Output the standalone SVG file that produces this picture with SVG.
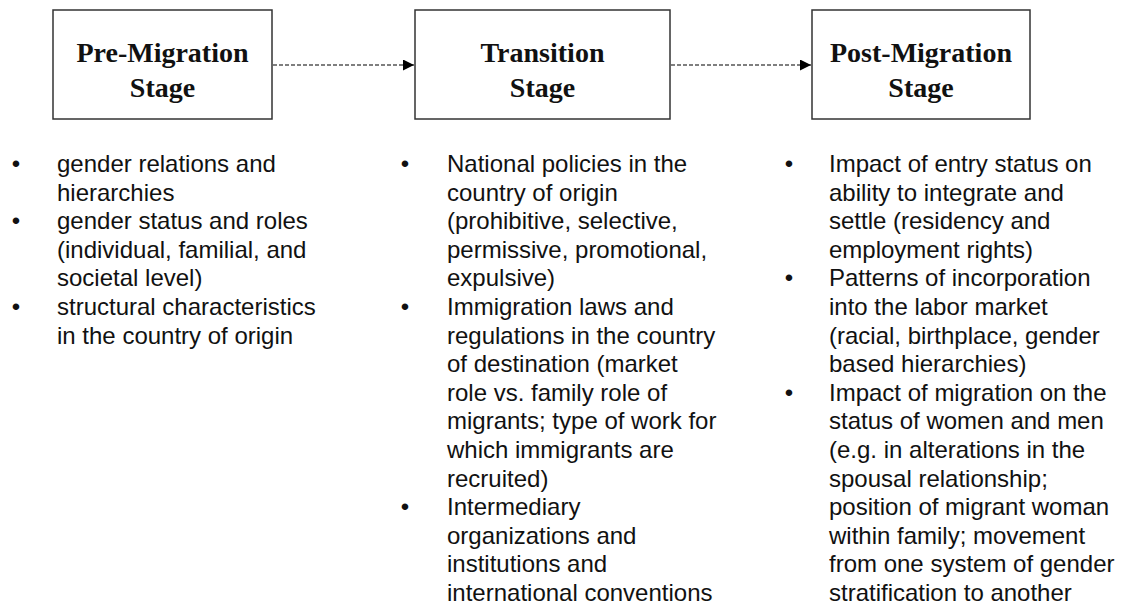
<svg xmlns="http://www.w3.org/2000/svg" width="1124" height="609" viewBox="0 0 1124 609">
  <defs>
    <marker id="arrowhead" viewBox="0 0 10 10" refX="10" refY="5" markerWidth="11" markerHeight="11" markerUnits="userSpaceOnUse" orient="auto">
      <path d="M0,0 L10,5 L0,10 Z" fill="#000"/>
    </marker>
    <style>
      .stage { fill: #fff; stroke: #333; stroke-width: 1.5; }
      .title { font-family: "Liberation Serif", "Times New Roman", serif; font-weight: bold; font-size: 28px; fill: #111; text-anchor: middle; }
      .item { font-family: "Liberation Sans", Arial, sans-serif; font-size: 24px; fill: #111; }
      .dot { font-family: "Liberation Sans", Arial, sans-serif; font-size: 24px; fill: #111; text-anchor: middle; }
      .flow { fill: none; stroke: #000; stroke-width: 1.2; stroke-dasharray: 4 2; }
    </style>
  </defs>
  <rect width="1124" height="609" fill="#fff"/>

  <!-- stage boxes -->
  <g id="pre-migration">
    <rect class="stage" x="53" y="10" width="219" height="109"/>
    <text class="title" x="162.5" y="62">Pre-Migration</text>
    <text class="title" x="162.5" y="97">Stage</text>
  </g>
  <g id="transition">
    <rect class="stage" x="415" y="10" width="255" height="109"/>
    <text class="title" x="542.5" y="62">Transition</text>
    <text class="title" x="542.5" y="97">Stage</text>
  </g>
  <g id="post-migration">
    <rect class="stage" x="812" y="10" width="218" height="109"/>
    <text class="title" x="921" y="62">Post-Migration</text>
    <text class="title" x="921" y="97">Stage</text>
  </g>

  <!-- dashed flow arrows between stages -->
  <g id="connectors">
    <line class="flow" x1="273" y1="65" x2="414" y2="65" marker-end="url(#arrowhead)"/>
    <line class="flow" x1="671" y1="65" x2="811" y2="65" marker-end="url(#arrowhead)"/>
  </g>

  <!-- factor lists under each stage -->
  <g id="pre-migration-factors">
    <text class="dot" x="16" y="172">•</text>
    <text class="dot" x="16" y="229.2">•</text>
    <text class="dot" x="16" y="315">•</text>
    <text class="item">
      <tspan x="57" y="172">gender relations and</tspan>
      <tspan x="57" y="200.6">hierarchies</tspan>
      <tspan x="57" y="229.2">gender status and roles</tspan>
      <tspan x="57" y="257.8">(individual, familial, and</tspan>
      <tspan x="57" y="286.4">societal level)</tspan>
      <tspan x="57" y="315">structural characteristics</tspan>
      <tspan x="57" y="343.6">in the country of origin</tspan>
    </text>
  </g>

  <g id="transition-factors">
    <text class="dot" x="405" y="172">•</text>
    <text class="dot" x="405" y="315">•</text>
    <text class="dot" x="405" y="515.2">•</text>
    <text class="item">
      <tspan x="447" y="172">National policies in the</tspan>
      <tspan x="447" y="200.6">country of origin</tspan>
      <tspan x="447" y="229.2">(prohibitive, selective,</tspan>
      <tspan x="447" y="257.8">permissive, promotional,</tspan>
      <tspan x="447" y="286.4">expulsive)</tspan>
      <tspan x="447" y="315">Immigration laws and</tspan>
      <tspan x="447" y="343.6">regulations in the country</tspan>
      <tspan x="447" y="372.2">of destination (market</tspan>
      <tspan x="447" y="400.8">role vs. family role of</tspan>
      <tspan x="447" y="429.4">migrants; type of work for</tspan>
      <tspan x="447" y="458">which immigrants are</tspan>
      <tspan x="447" y="486.6">recruited)</tspan>
      <tspan x="447" y="515.2">Intermediary</tspan>
      <tspan x="447" y="543.8">organizations and</tspan>
      <tspan x="447" y="572.4">institutions and</tspan>
      <tspan x="447" y="601">international conventions</tspan>
    </text>
  </g>

  <g id="post-migration-factors">
    <text class="dot" x="789" y="172">•</text>
    <text class="dot" x="789" y="286.4">•</text>
    <text class="dot" x="789" y="400.8">•</text>
    <text class="item">
      <tspan x="829" y="172">Impact of entry status on</tspan>
      <tspan x="829" y="200.6">ability to integrate and</tspan>
      <tspan x="829" y="229.2">settle (residency and</tspan>
      <tspan x="829" y="257.8">employment rights)</tspan>
      <tspan x="829" y="286.4">Patterns of incorporation</tspan>
      <tspan x="829" y="315">into the labor market</tspan>
      <tspan x="829" y="343.6">(racial, birthplace, gender</tspan>
      <tspan x="829" y="372.2">based hierarchies)</tspan>
      <tspan x="829" y="400.8">Impact of migration on the</tspan>
      <tspan x="829" y="429.4">status of women and men</tspan>
      <tspan x="829" y="458">(e.g. in alterations in the</tspan>
      <tspan x="829" y="486.6">spousal relationship;</tspan>
      <tspan x="829" y="515.2">position of migrant woman</tspan>
      <tspan x="829" y="543.8">within family; movement</tspan>
      <tspan x="829" y="572.4">from one system of gender</tspan>
      <tspan x="829" y="601">stratification to another</tspan>
    </text>
  </g>
</svg>
